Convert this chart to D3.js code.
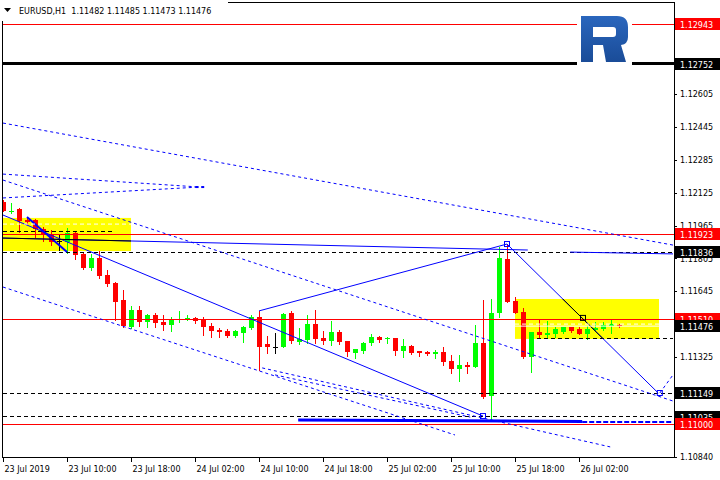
<!DOCTYPE html>
<html>
<head>
<meta charset="utf-8">
<script src="https://cdn.jsdelivr.net/npm/d3@7"></script>
<style>
body { margin: 0; background: #fff; }
svg text { font-family: "DejaVu Sans", Tahoma, sans-serif; font-size: 8px; }
</style>
</head>
<body>
<svg id="chart" width="720" height="480"></svg>
<script>
// EURUSD H1, bars from 23 Jul 2019 02:00 to 26 Jul 2019 07:00
var opens = [1.12079,1.12034,1.12045,1.11992,1.11992,1.11948,1.11920,1.11890,1.11885,1.11929,
  1.11827,1.11758,1.11807,1.11724,1.11686,1.11603,1.11472,1.11554,1.11496,1.11530,
  1.11496,1.11481,1.11509,1.11513,1.11515,1.11511,1.11476,1.11457,1.11452,1.11428,
  1.11442,1.11467,1.11520,1.11389,1.11375,1.11375,1.11540,1.11399,1.11409,1.11486,
  1.11418,1.11404,1.11447,1.11404,1.11345,1.11355,1.11394,1.11423,1.11412,1.11418,
  1.11355,1.11380,1.11355,1.11350,1.11340,1.11350,1.11306,1.11268,1.11287,1.11277,
  1.11394,1.11136,1.11540,1.11802,1.11598,1.11545,1.11326,1.11447,1.11433,1.11438,
  1.11447,1.11472,1.11462,1.11438,1.11457,1.11462,1.11476,1.11482];
var highs = [1.12090,1.12074,1.12048,1.12006,1.11997,1.11958,1.11943,1.11920,1.11953,1.11934,
  1.11831,1.11827,1.11841,1.11749,1.11691,1.11652,1.11574,1.11574,1.11535,1.11540,
  1.11530,1.11520,1.11549,1.11530,1.11518,1.11520,1.11491,1.11467,1.11462,1.11457,
  1.11476,1.11530,1.11549,1.11428,1.11442,1.11540,1.11549,1.11467,1.11530,1.11554,
  1.11452,1.11501,1.11457,1.11406,1.11367,1.11399,1.11438,1.11426,1.11423,1.11420,
  1.11414,1.11384,1.11357,1.11355,1.11360,1.11375,1.11336,1.11336,1.11302,1.11481,
  1.11603,1.11608,1.11861,1.11875,1.11617,1.11564,1.11449,1.11511,1.11501,1.11472,
  1.11474,1.11474,1.11472,1.11476,1.11496,1.11496,1.11506,1.11485];
var lows = [1.12036,1.12026,1.11934,1.11972,1.11909,1.11890,1.11870,1.11846,1.11831,1.11802,
  1.11753,1.11749,1.11710,1.11671,1.11506,1.11472,1.11467,1.11476,1.11472,1.11472,
  1.11457,1.11452,1.11496,1.11506,1.11491,1.11433,1.11423,1.11423,1.11423,1.11423,
  1.11399,1.11462,1.11263,1.11345,1.11345,1.11375,1.11394,1.11389,1.11394,1.11394,
  1.11389,1.11384,1.11389,1.11331,1.11321,1.11345,1.11384,1.11399,1.11394,1.11336,
  1.11326,1.11340,1.11331,1.11336,1.11321,1.11287,1.11248,1.11209,1.11248,1.11275,
  1.11127,1.11025,1.11520,1.11593,1.11540,1.11321,1.11253,1.11418,1.11423,1.11423,
  1.11445,1.11447,1.11436,1.11414,1.11455,1.11457,1.11442,1.11473];
var closes = [1.12036,1.12038,1.11987,1.11982,1.11948,1.11920,1.11885,1.11890,1.11929,1.11822,
  1.11758,1.11807,1.11720,1.11681,1.11593,1.11476,1.11554,1.11496,1.11530,1.11491,
  1.11481,1.11511,1.11512,1.11516,1.11501,1.11472,1.11452,1.11447,1.11428,1.11452,
  1.11472,1.11520,1.11375,1.11375,1.11375,1.11535,1.11404,1.11414,1.11486,1.11414,
  1.11404,1.11447,1.11399,1.11350,1.11365,1.11394,1.11423,1.11409,1.11418,1.11355,
  1.11380,1.11345,1.11345,1.11340,1.11350,1.11302,1.11268,1.11287,1.11277,1.11394,
  1.11132,1.11540,1.11807,1.11593,1.11540,1.11326,1.11447,1.11433,1.11442,1.11462,
  1.11472,1.11452,1.11438,1.11462,1.11467,1.11481,1.11486,1.11476];

var xTickIdx = [0, 8, 16, 24, 32, 40, 48, 56, 64, 72];
var xTickLabels = ["23 Jul 2019", "23 Jul 10:00", "23 Jul 18:00", "24 Jul 02:00", "24 Jul 10:00",
  "24 Jul 18:00", "25 Jul 02:00", "25 Jul 10:00", "25 Jul 18:00", "26 Jul 02:00"];
var yTicks = [1.12925, 1.12765, 1.12605, 1.12445, 1.12285, 1.12125, 1.11965, 1.11805,
  1.11645, 1.11485, 1.11325, 1.11165, 1.11005, 1.10840];

var redLevels = [1.12943, 1.11923, 1.11510, 1.11000];
var blackLevels = [1.12752, 1.11836, 1.11476, 1.11149, 1.11035];
var thickLevel = 1.12752;
var dashedLevels = [1.11836, 1.11149, 1.11035];

// analysis objects: [barFrom, priceFrom, barTo, priceTo]
var dotLines = [
  [0, 1.12463, 83.75, 1.11870],
  [0, 1.12215, 24.6, 1.12152],
  [0, 1.12099, 24.6, 1.12152],
  [0, 1.12186, 83.75, 1.11112],
  [0, 1.11666, 56.5, 1.10947],
  [32.4, 1.11273, 75.9, 1.10889],
  [34, 1.11239, 58.4, 1.11034],
  [82.1, 1.11151, 83.75, 1.11239]
];
var solidLines = [
  [0, 1.12016, 60, 1.11039],
  [32, 1.11550, 63, 1.11875],
  [63, 1.11875, 81.9, 1.11151],
  [0, 1.11904, 65.6, 1.11846],
  [70.9, 1.11836, 83.75, 1.11827]
];
var thickLines = [
  [3, 1.12006, 8, 1.11836],
  [36.9, 1.11020, 72.4, 1.11013]
];
var supportDash = [72.4, 1.11010, 83.75, 1.11010];
var boxes = [
  [-1, 1.12002, 16, 1.11841],
  [64, 1.11608, 82, 1.11414]
];
var markers = [[60, 1.11039], [63, 1.11875], [72.5, 1.11516], [82.1, 1.11151]];
var endDots = [[24.2, 1.12152], [24.9, 1.12152]];
var shortDash = [0, 1.11938, 14, 1.11938];
var box1White = [0, 1.11972, 16, 1.11972];
var box2WhiteDash = [64, 1.11486, 82, 1.11486];
var box2White = [64, 1.11476, 82, 1.11476];
var box2Dash = [66.75, 1.11414, 83.75, 1.11414];

var title = "EURUSD,H1  1.11482 1.11485 1.11473 1.11476";

var RED = "#ff0000", GREEN = "#00ff00", BLUE = "#0000ff";

var svg = d3.select("#chart");
var x = d3.scaleLinear().domain([0, 77]).range([3, 619]);
var y = d3.scaleLinear().domain([1.10840, 1.12925]).range([457, 28]);

var defs = svg.append("defs");
defs.append("clipPath").attr("id", "plot")
  .append("rect").attr("x", 3).attr("y", 3).attr("width", 671).attr("height", 454);
boxes.forEach(function(b, k) {
  defs.append("clipPath").attr("id", "box" + k)
    .append("rect")
    .attr("x", x(b[0])).attr("y", y(b[1]))
    .attr("width", x(b[2]) - x(b[0])).attr("height", y(b[3]) - y(b[1]));
});
var grad = defs.append("linearGradient").attr("id", "logoGrad")
  .attr("x1", 0).attr("y1", 0).attr("x2", 0).attr("y2", 1);
grad.append("stop").attr("offset", "0%").attr("stop-color", "#2a66bd");
grad.append("stop").attr("offset", "100%").attr("stop-color", "#1a4c98");

var plot = svg.append("g").attr("clip-path", "url(#plot)");

function seg(g, d, color, width, dash) {
  return g.append("line")
    .attr("x1", x(d[0])).attr("y1", y(d[1]))
    .attr("x2", x(d[2])).attr("y2", y(d[3]))
    .attr("stroke", color).attr("stroke-width", width)
    .attr("stroke-dasharray", dash || null);
}

// yellow rectangles (background)
plot.selectAll("rect.box").data(boxes).enter().append("rect")
  .attr("class", "box")
  .attr("x", function(b) { return x(b[0]); })
  .attr("y", function(b) { return y(b[1]); })
  .attr("width", function(b) { return x(b[2]) - x(b[0]); })
  .attr("height", function(b) { return y(b[3]) - y(b[1]); })
  .attr("fill", "#ffff00");

// candles
var bars = d3.range(opens.length).map(function(i) {
  return { i: i, o: opens[i], h: highs[i], l: lows[i], c: closes[i] };
});
function barColor(d) { return d.c > d.o ? GREEN : (d.c < d.o ? RED : "#000"); }

var candles = plot.append("g").attr("shape-rendering", "crispEdges");
candles.selectAll("rect.wick").data(bars).enter().append("rect")
  .attr("class", "wick")
  .attr("x", function(d) { return Math.round(x(d.i)); })
  .attr("y", function(d) { return Math.round(y(d.h)); })
  .attr("width", 1)
  .attr("height", function(d) { return Math.max(1, Math.round(y(d.l)) - Math.round(y(d.h)) + 1); })
  .attr("fill", barColor);
candles.selectAll("rect.body").data(bars).enter().append("rect")
  .attr("class", "body")
  .attr("x", function(d) { return Math.round(x(d.i)) - 2; })
  .attr("y", function(d) { return Math.round(y(Math.max(d.o, d.c))); })
  .attr("width", 5)
  .attr("height", function(d) {
    return Math.max(1, Math.round(y(Math.min(d.o, d.c))) - Math.round(y(Math.max(d.o, d.c))));
  })
  .attr("fill", barColor);

// horizontal levels
var levels = plot.append("g").attr("shape-rendering", "crispEdges");
redLevels.forEach(function(p) {
  seg(levels, [0, p, 90, p], RED, 1);
});
blackLevels.forEach(function(p) {
  if (p === thickLevel) seg(levels, [0, p, 90, p], "#000", 3);
  else if (dashedLevels.indexOf(p) >= 0) seg(levels, [0, p, 90, p], "#000", 1, "4,3");
});
seg(levels, shortDash, "#000", 1, "4,3");
seg(levels, box2Dash, "#000", 1, "4,3");

// trend lines
var trends = plot.append("g");
dotLines.forEach(function(d) { seg(trends, d, BLUE, 1, "3,3"); });
solidLines.forEach(function(d) { seg(trends, d, BLUE, 1); });
seg(trends, thickLines[0], BLUE, 2);
seg(trends, thickLines[1], BLUE, 3);
seg(trends, supportDash, BLUE, 2, "5,2");

// objects over the yellow rectangles are drawn inverted
var inBox1 = plot.append("g").attr("clip-path", "url(#box0)");
seg(inBox1, solidLines[3], "#000", 1);
seg(inBox1, box1White, "#fff", 1, "4,3");
var inBox2 = plot.append("g").attr("clip-path", "url(#box1)");
seg(inBox2, solidLines[2], "#000", 1);
seg(inBox2, box2WhiteDash, "#fff", 1, "4,3");
seg(inBox2, box2White, "#fff", 1);

plot.selectAll("rect.mark").data(markers).enter().append("rect")
  .attr("class", "mark")
  .attr("x", function(d) { return x(d[0]) - 2.5; })
  .attr("y", function(d) { return y(d[1]) - 2.5; })
  .attr("width", 5).attr("height", 5)
  .attr("fill", "none")
  .attr("stroke", function(d, k) { return k === 2 ? "#000" : BLUE; });
plot.selectAll("rect.enddot").data(endDots).enter().append("rect")
  .attr("class", "enddot")
  .attr("x", function(d) { return x(d[0]) - 1; })
  .attr("y", function(d) { return y(d[1]) - 1; })
  .attr("width", 3).attr("height", 2)
  .attr("fill", BLUE);

// logo
svg.append("rect").attr("x", 577).attr("y", 5).attr("width", 55).attr("height", 62).attr("fill", "#fff");
svg.append("path")
  .attr("fill", "url(#logoGrad)")
  .attr("fill-rule", "evenodd")
  .attr("d", "M581,16 L617,16 Q628,16 628,27 L628,37 Q628,44 621,45 L626,62 L606,62 L603,45 L593,45 L593,62 L581,62 Z " +
             "M593,27 L613,27 Q616,27 616,30 L616,34 Q616,37 613,37 L593,37 Z");

// frame
svg.append("rect")
  .attr("x", 2.5).attr("y", 2.5).attr("width", 671.5).attr("height", 455)
  .attr("fill", "none").attr("stroke", "#000").attr("shape-rendering", "crispEdges");

// axes
var yAxis = svg.append("g")
  .attr("transform", "translate(674,0)")
  .call(d3.axisRight(y).tickValues(yTicks).tickFormat(d3.format(".5f")).tickSize(3).tickPadding(3));
yAxis.select(".domain").remove();
yAxis.selectAll("text").attr("font-size", "8px").attr("fill", "#000")
  .style("font-family", "'DejaVu Sans', Tahoma, sans-serif");
// labels sitting right under a price tag are not shown
var allTags = redLevels.concat(blackLevels);
yAxis.selectAll(".tick").filter(function(d) {
  return allTags.some(function(p) { return Math.abs(y(p) - y(d)) < 4.5; });
}).select("text").remove();

var xAxis = svg.append("g")
  .attr("transform", "translate(0,457)")
  .call(d3.axisBottom(x).tickValues(xTickIdx)
    .tickFormat(function(d, i) { return xTickLabels[i]; }).tickSize(5).tickPadding(4));
xAxis.select(".domain").remove();
xAxis.selectAll("text").attr("text-anchor", "start").attr("x", 1)
  .attr("font-size", "8px").attr("fill", "#000")
  .style("font-family", "'DejaVu Sans', Tahoma, sans-serif");
svg.selectAll(".tick line").attr("shape-rendering", "crispEdges");

// price labels on the right scale
var tags = redLevels.map(function(p) { return { p: p, c: RED }; })
  .concat(blackLevels.map(function(p) { return { p: p, c: "#000" }; }))
  .sort(function(a, b) { return b.p - a.p; });
var tag = svg.selectAll("g.tag").data(tags).enter().append("g").attr("class", "tag")
  .attr("transform", function(d) { return "translate(675," + (Math.round(y(d.p)) - 6) + ")"; });
tag.append("rect").attr("width", 45).attr("height", 12).attr("fill", function(d) { return d.c; });
tag.append("text").attr("x", 5).attr("y", 9.5).attr("fill", "#fff")
  .text(function(d) { return d3.format(".5f")(d.p); });

// title
svg.append("rect").attr("x", 0).attr("y", 0).attr("width", 228).attr("height", 21).attr("fill", "#fff");
svg.append("path").attr("d", "M4,8 L11,8 L7.5,12 Z").attr("fill", "#000");
svg.append("text").attr("x", 19).attr("y", 14).style("white-space", "pre").attr("fill", "#000")
  .text(title);
</script>
</body>
</html>
